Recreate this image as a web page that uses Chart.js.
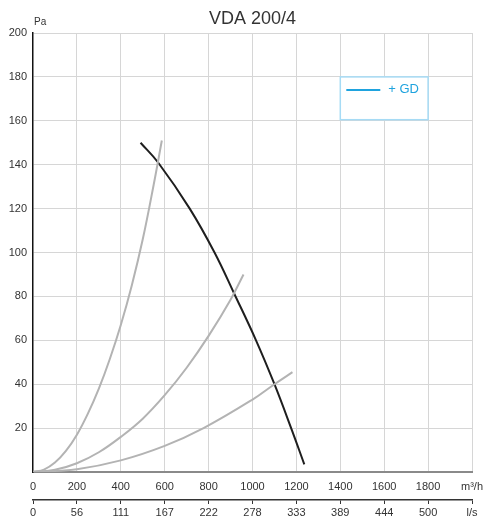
<!DOCTYPE html>
<html>
<head>
<meta charset="utf-8">
<script src="https://cdn.jsdelivr.net/npm/chart.js@4/dist/chart.umd.min.js"></script>
<style>
html,body{margin:0;padding:0;background:#fff;}
#wrap{width:484px;height:518px;}
</style>
</head>
<body>
<div id="wrap"><canvas id="c" width="484" height="518"></canvas></div>
<script>
// ---- data ----
const chartTitle = 'VDA 200/4';
const yUnit = 'Pa';
const xUnit = 'm³/h';
const x2Unit = 'l/s';
const legendLabel = '+ GD';

const xTicks = [0, 200, 400, 600, 800, 1000, 1200, 1400, 1600, 1800, 2000];
const x2TickLabels = ['0', '56', '111', '167', '222', '278', '333', '389', '444', '500'];
const yTicks = [20, 40, 60, 80, 100, 120, 140, 160, 180, 200];

// fan curve (m³/h, Pa)
const fanFlow =     [490, 570, 714, 827, 918, 1016, 1100, 1176, 1236];
const fanPressure = [150, 141, 120, 100,  81,   60,   40,   20,  3.5];

// system curves (m³/h, Pa)
const sys1Flow =     [0,  50, 100, 150, 200,  250, 300, 350, 400, 450, 500, 550, 587];
const sys1Pressure = [0, 1.1, 4.3, 9.6,  17, 26.6,  38, 51.5, 67,  85, 106, 131, 151];
const sys2Flow =     [0, 100, 200, 300, 400, 500,  600,  700, 800, 900, 959];
const sys2Pressure = [0,   1,   4,   9,  16, 24.3,  35, 47.5, 62, 78.5, 90];
const sys3Flow =     [0, 200, 400, 600, 777, 1000, 1100, 1182];
const sys3Pressure = [0, 1.3, 5.3, 11.9, 20,   33,   40, 45.5];

const FONT = '"Liberation Sans", Arial, sans-serif';
const pts = (xs, ys) => xs.map((x, i) => ({x: x, y: ys[i]}));

const overlay = {
  id: 'overlay',
  afterDraw(chart) {
    const ctx = chart.ctx;
    const xs = chart.scales.x, ys = chart.scales.y;
    const area = chart.chartArea;
    ctx.save();
    // title
    ctx.fillStyle = '#333';
    ctx.font = '18px ' + FONT;
    ctx.textAlign = 'center';
    ctx.textBaseline = 'middle';
    ctx.fillText(chartTitle, (area.left + area.right) / 2, 19);
    // y unit
    ctx.font = '10px ' + FONT;
    ctx.textAlign = 'left';
    ctx.fillText(yUnit, area.left + 1, 22);
    // legend box
    const gd = chart.data.datasets[4];
    const l = xs.getPixelForValue(1400), r = xs.getPixelForValue(1800);
    const t = ys.getPixelForValue(180), b = ys.getPixelForValue(160.5);
    ctx.fillStyle = '#fff';
    ctx.fillRect(l, t, r - l, b - t);
    ctx.strokeStyle = '#a6dbf5';
    ctx.lineWidth = 1.5;
    ctx.strokeRect(l, t, r - l, b - t);
    ctx.strokeStyle = gd.borderColor;
    ctx.lineWidth = 2;
    ctx.beginPath();
    ctx.moveTo(l + 6, t + 13);
    ctx.lineTo(l + 40, t + 13);
    ctx.stroke();
    ctx.fillStyle = gd.borderColor;
    ctx.font = '13px ' + FONT;
    ctx.textAlign = 'left';
    ctx.textBaseline = 'middle';
    ctx.fillText(gd.label, l + 48, t + 13);
    ctx.restore();
  }
};

const grayLine = (xs, ys) => ({
  data: pts(xs, ys), borderColor: '#b3b3b3', borderWidth: 2,
  pointRadius: 0, tension: 0.4, fill: false
});

const noPad = s => { s.paddingLeft = 0; s.paddingRight = 0; };

new Chart(document.getElementById('c'), {
  type: 'line',
  data: {
    datasets: [
      grayLine(sys1Flow, sys1Pressure),
      grayLine(sys2Flow, sys2Pressure),
      grayLine(sys3Flow, sys3Pressure),
      { data: pts(fanFlow, fanPressure), borderColor: '#1e1e1e', borderWidth: 2,
        pointRadius: 0, tension: 0.4, fill: false },
      { label: legendLabel, data: [], borderColor: '#1fa3de', borderWidth: 2, pointRadius: 0 }
    ]
  },
  plugins: [overlay],
  options: {
    responsive: false,
    animation: false,
    layout: { padding: { top: 33, right: 12, left: 0, bottom: 0 } },
    plugins: { legend: { display: false }, tooltip: { enabled: false }, title: { display: false } },
    scales: {
      x: {
        type: 'linear', position: 'bottom', weight: 0,
        min: 0, max: 2000,
        afterBuildTicks: s => { s.ticks = xTicks.map(v => ({value: v})); },
        afterFit: s => { s.height = 28; noPad(s); },
        grid: {
          color: c => (c.tick && c.tick.value === 0) ? 'rgba(0,0,0,0)' : '#d6d6d6',
          lineWidth: 1, drawTicks: false
        },
        border: { display: true, color: '#8a8a8a', width: 2 },
        ticks: {
          padding: 8, color: '#333', font: { family: FONT, size: 11 }, maxRotation: 0,
          callback: v => v === 2000 ? xUnit : String(v)
        }
      },
      x2: {
        type: 'linear', position: 'bottom', weight: 1,
        min: 0, max: 2000,
        afterBuildTicks: s => { s.ticks = xTicks.map(v => ({value: v})); },
        afterFit: s => { s.height = 18; noPad(s); },
        grid: { drawOnChartArea: false, drawTicks: true, tickLength: 4, color: '#333', lineWidth: 1 },
        border: { display: true, color: '#333', width: 1.5 },
        ticks: {
          padding: 2, color: '#333', font: { family: FONT, size: 11 }, maxRotation: 0,
          callback: (v, i) => i < x2TickLabels.length ? x2TickLabels[i] : x2Unit
        }
      },
      y: {
        type: 'linear', position: 'left',
        min: 0, max: 200,
        afterBuildTicks: s => { s.ticks = [0].concat(yTicks).map(v => ({value: v})); },
        afterFit: s => { s.width = 33; s.paddingTop = 0; s.paddingBottom = 0; },
        grid: {
          color: c => (c.tick && c.tick.value === 0) ? 'rgba(0,0,0,0)' : '#d6d6d6',
          lineWidth: 1, drawTicks: false
        },
        border: { display: true, color: '#111', width: 1.5 },
        ticks: {
          padding: 6, color: '#333', font: { family: FONT, size: 11 },
          callback: v => v === 0 ? '' : String(v)
        }
      }
    }
  }
});
</script>
</body>
</html>
